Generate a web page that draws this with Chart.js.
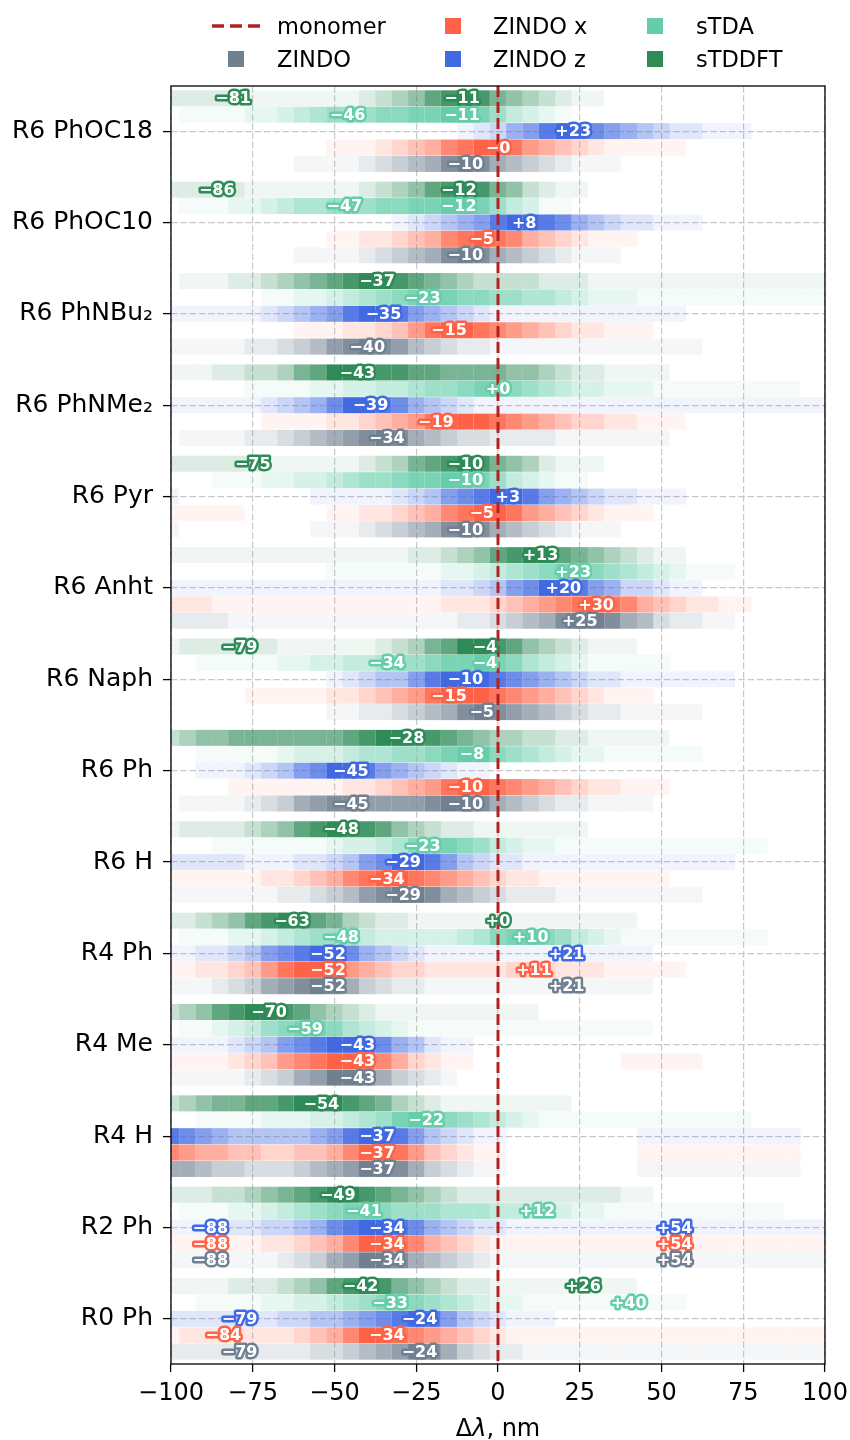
<!DOCTYPE html>
<html>
<head>
<meta charset="utf-8">
<script src="https://cdn.jsdelivr.net/npm/chart.js@4"></script>
<style>
  body { margin: 0; background: #fff; }
  #wrap { position: relative; width: 850px; height: 1440px; font-family: "DejaVu Sans", sans-serif; color: #000; }
  #chart { position: absolute; left: 0; top: 0; }
  .lg-text { position: absolute; font-size: 22.5px; line-height: 26px; white-space: nowrap; }
  .lg-box { position: absolute; width: 16px; height: 16px; }
  #xtitle { position: absolute; left: 171px; width: 654px; top: 1414px; text-align: center; font-size: 24px; line-height: 28px; }
</style>
</head>
<body>
<div id="wrap">
  <canvas id="chart" width="850" height="1440"></canvas>

  <!-- legend, 3 columns like the original -->
  <svg style="position:absolute;left:212px;top:23px" width="48" height="6">
    <line x1="0" y1="3" x2="48" y2="3" stroke="#b22222" stroke-width="3.5" stroke-dasharray="12,6"></line>
  </svg>
  <span class="lg-text" style="left:277px;top:13px">monomer</span>
  <div class="lg-box" style="left:445px;top:18px;background:#ff6347"></div>
  <span class="lg-text" style="left:493px;top:13px">ZINDO x</span>
  <div class="lg-box" style="left:647px;top:18px;background:#66cdaa"></div>
  <span class="lg-text" style="left:696px;top:13px">sTDA</span>

  <div class="lg-box" style="left:228px;top:51px;background:#708090"></div>
  <span class="lg-text" style="left:277px;top:46px">ZINDO</span>
  <div class="lg-box" style="left:445px;top:51px;background:#4169e1"></div>
  <span class="lg-text" style="left:493px;top:46px">ZINDO z</span>
  <div class="lg-box" style="left:647px;top:51px;background:#2e8b57"></div>
  <span class="lg-text" style="left:696px;top:46px">sTDDFT</span>

  <div id="xtitle">Δ<i>λ</i>, nm</div>
</div>

<script>
// molecules, top to bottom
const groups = ['R6 PhOC18', 'R6 PhOC10', 'R6 PhNBu\u2082', 'R6 PhNMe\u2082', 'R6 Pyr', 'R6 Anht',
  'R6 Naph', 'R6 Ph', 'R6 H', 'R4 Ph', 'R4 Me', 'R4 H', 'R2 Ph', 'R0 Ph'];

// centres of the 5 nm bins
const binCenters = [-100, -95, -90, -85, -80, -75, -70, -65, -60, -55, -50, -45, -40, -35, -30, -25, -20,
  -15, -10, -5, 0, 5, 10, 15, 20, 25, 30, 35, 40, 45, 50, 55, 60, 65, 70, 75, 80, 85, 90, 95, 100];

const xTicks = [-100, -75, -50, -25, 0, 25, 50, 75, 100];

// intensity of each bin, one digit per bin (0 = empty, 9 = full colour)
const sTDDFT_rows = [
  '2222211111112345789865432110000000000000',
  '2222211111112345789865321100000000000000',
  '0111223456789987654333322211111111111111',
  '1112233467999887766665543221111000000000',
  '2222221111112346789865421110000000000000',
  '1111111111111112234578997654321100000000',
  '1222222111111234679987543211100000000000',
  '3455666666678998876544332211111000000000',
  '1222234578988754322111111100000000000000',
  '2234578987643221111111111111100000000000',
  '3457899875432111111111100000000000000000',
  '3456677899987643211111111000000000000000',
  '2223345678998765432222222222110000000000',
  '1111222345789865432211111111100000000000'
];
const sTDA_rows = [
  '0111122345666778899864321000000000000000',
  '0111223455666778899864311000000000000000',
  '0000001122345678887766554322211111111111',
  '0000011112233445667887654332221111111110',
  '0001112233456678899864321100000000000000',
  '0000000000111111122345678876543211100000',
  '0011111223344566788987543211111000000000',
  '0011111233345566789976543221111110000000',
  '0001111111233457887643221111111111111000',
  '0111223456654333334578876432111111111000',
  '0112346788754321111111111111110000000000',
  '0011112223345689876543211111111111110000',
  '0111223456788766655544433221111111111100',
  '0011112233456777654322111111111100000000'
];
const zindoZ_rows = [
  '0000000000000000001235689876543221110000',
  '0000000000000012345689987543221110000000',
  '1111112345689986543211111111111100000000',
  '1111112345799875432111111111111111111111',
  '1000000001111123467899865432211100000000',
  '1111111111111111122346799865332110000000',
  '0000000000123446899987654322111111100000',
  '0011123467998654321100000000000000000000',
  '2222211122346799864322111111111111100000',
  '1122346789975432111111111111110000000000',
  '1111234678998754211000000000000000000000',
  '8765444445689986432110000000011111111110',
  '1112223345789987543221111111111111111111',
  '2222222334456789864321110000000000000000'
];
const zindoX_rows = [
  '0000000000111234578998654321111100000000',
  '0000000000112234578987543211100000000000',
  '0000000011122346899876543221110000000000',
  '0000001111223456899987654332211100000000',
  '1111100000112234578998654321110000000000',
  '2221111111111111122234567898754322110000',
  '0000011111223456899987654321110000000000',
  '0000111111122345689987654322111000000000',
  '1111112234578998765432211111111000000000',
  '1122346899865433222223332221111100000000',
  '1111234678998753211000000000111110000000',
  '7655443344579986432110000000011111111110',
  '1111112234579987543211111111111111111111',
  '1222222234579987654321111111111111111111'
];
const zindo_rows = [
  '0000000011112345689865432111000000000000',
  '0000000011112345689865432111000000000000',
  '1111122345789875432211111111111110000000',
  '0111122345678986543322221111111000000000',
  '1000000001112345689865432111000000000000',
  '2222111111111111112234568998653221100000',
  '0000000000112234568987654322111110000000',
  '0111123467887777899865432211110000000000',
  '1111111223457899865432221111111110000000',
  '1112346789864322111111111111110000000000',
  '1111123467998643210000000000000000000000',
  '6654433345679986432110000000011111111110',
  '1111111234679986543211111111111111111111',
  '2222222223345679864322111111111111111111'
];

// labelled peak positions, nm
const sTDDFT_peaks = [[-81, -11], [-86, -12], [-37], [-43], [-75, -10], [13], [-79, -4], [-28], [-48], [-63, 0], [-70], [-54], [-49], [-42, 26]];
const sTDA_peaks = [[-46, -11], [-47, -12], [-23], [0], [-10], [23], [-34, -4], [-8], [-23], [-48, 10], [-59], [-22], [-41, 12], [-33, 40]];
const zindoZ_peaks = [[23], [8], [-35], [-39], [3], [20], [-10], [-45], [-29], [-52, 21], [-43], [-37], [-88, -34, 54], [-79, -24]];
const zindoX_peaks = [[-0], [-5], [-15], [-19], [-5], [30], [-15], [-10], [-34], [-52, 11], [-43], [-37], [-88, -34, 54], [-84, -34]];
const zindo_peaks = [[-10], [-10], [-40], [-34], [-10], [25], [-5], [-45, -10], [-29], [-52, 21], [-43], [-37], [-88, -34, 54], [-79, -24]];

// rows inside a group, top to bottom
const methods = [
  { name: 'sTDDFT', rgb: '46,139,87', rows: sTDDFT_rows, peaks: sTDDFT_peaks },
  { name: 'sTDA', rgb: '102,205,170', rows: sTDA_rows, peaks: sTDA_peaks },
  { name: 'ZINDO z', rgb: '65,105,225', rows: zindoZ_rows, peaks: zindoZ_peaks },
  { name: 'ZINDO x', rgb: '255,99,71', rows: zindoX_rows, peaks: zindoX_peaks },
  { name: 'ZINDO', rgb: '112,128,144', rows: zindo_rows, peaks: zindo_peaks }
];

const alphaLevels = [0, 0.07, 0.16, 0.27, 0.39, 0.52, 0.64, 0.76, 0.88, 1];
const GROUP_GAP = 5.57;
const Y_MIN = -2.75;
const Y_MAX = (groups.length - 1) * GROUP_GAP + 2.75;

function rowY(g, r) {
  return g * GROUP_GAP + r - 2;
}

// turn the digit strings into floating bars
function cellsFor(rows, r) {
  var cells = [];
  rows.forEach(function (s, g) {
    for (var k = 0; k < binCenters.length; k++) {
      var d = k < s.length ? +s[k] : +s[s.length - 1];
      if (d > 0) {
        cells.push({ y: rowY(g, r), x: [binCenters[k] - 2.5, binCenters[k] + 2.5], a: alphaLevels[d] });
      }
    }
  });
  return cells;
}

function signed(v) {
  if (v < 0 || Object.is(v, -0)) return '\u2212' + Math.abs(v);
  return '+' + v;
}

var datasets = methods.map(function (m, r) {
  return {
    type: 'bar',
    label: m.name,
    data: cellsFor(m.rows, r),
    backgroundColor: function (c) {
      var a = c.raw ? c.raw.a : 1;
      return 'rgba(' + m.rgb + ',' + a + ')';
    },
    borderWidth: 0,
    inflateAmount: 0,
    barThickness: 16,
    grouped: false,
    clip: 0,
    order: 1
  };
});

datasets.push({
  type: 'line',
  label: 'monomer',
  data: [{ x: 0, y: Y_MIN }, { x: 0, y: Y_MAX }],
  borderColor: '#b22222',
  borderWidth: 3,
  borderDash: [11, 5],
  pointRadius: 0,
  clip: 0,
  order: 0
});

// white numbers with a coloured outline at each peak
const peakLabels = {
  id: 'peakLabels',
  afterDatasetsDraw: function (chart) {
    var ctx = chart.ctx, x = chart.scales.x, y = chart.scales.y;
    ctx.save();
    ctx.font = 'bold 16px "DejaVu Sans"';
    ctx.textAlign = 'center';
    ctx.textBaseline = 'middle';
    ctx.lineJoin = 'round';
    methods.forEach(function (m, r) {
      m.peaks.forEach(function (list, g) {
        list.forEach(function (v) {
          var px = x.getPixelForValue(v);
          var py = y.getPixelForValue(rowY(g, r)) + 1;
          ctx.lineWidth = 5;
          ctx.strokeStyle = 'rgb(' + m.rgb + ')';
          ctx.strokeText(signed(v), px, py);
          ctx.fillStyle = '#fff';
          ctx.fillText(signed(v), px, py);
        });
      });
    });
    ctx.restore();
  },
  afterDraw: function (chart) {
    var a = chart.chartArea, ctx = chart.ctx;
    ctx.save();
    ctx.strokeStyle = '#000';
    ctx.lineWidth = 1.3;
    ctx.strokeRect(a.left, a.top, a.right - a.left, a.bottom - a.top);
    ctx.restore();
  }
};

Chart.defaults.font.family = '"DejaVu Sans", sans-serif';

var gridOpts = { color: '#c8c8c8', lineWidth: 1.2, tickColor: '#000', tickLength: 8, tickWidth: 1.3, tickBorderDash: [] };
var borderOpts = { display: false, dash: [6.5, 2.8] };

var chart = new Chart(document.getElementById('chart'), {
  type: 'bar',
  data: { datasets: datasets },
  plugins: [peakLabels],
  options: {
    indexAxis: 'y',
    responsive: false,
    animation: false,
    devicePixelRatio: 1,
    events: [],
    layout: { padding: { top: 86, right: 25, left: 0, bottom: 0 } },
    plugins: { legend: { display: false }, tooltip: { enabled: false } },
    scales: {
      x: {
        type: 'linear',
        min: -100,
        max: 100,
        afterBuildTicks: function (s) { s.ticks = xTicks.map(function (v) { return { value: v }; }); },
        ticks: {
          color: '#000', font: { size: 24 }, padding: 7, maxRotation: 0, autoSkip: false,
          callback: function (v) { return v < 0 ? '\u2212' + Math.abs(v) : String(v); }
        },
        grid: gridOpts,
        border: borderOpts,
        afterFit: function (s) {
          s.height = 76;
          s.paddingLeft = 0;
          s.paddingRight = 0;
        }
      },
      y: {
        type: 'linear',
        reverse: true,
        min: Y_MIN,
        max: Y_MAX,
        offset: false,
        afterBuildTicks: function (s) { s.ticks = groups.map(function (n, g) { return { value: g * GROUP_GAP }; }); },
        ticks: {
          color: '#000', font: { size: 25 }, padding: 10, autoSkip: false,
          callback: function (v, i) { return groups[i]; }
        },
        grid: Object.assign({}, gridOpts, { offset: false }),
        border: borderOpts,
        afterFit: function (s) {
          s.width = 171;
          s.paddingTop = 0;
          s.paddingBottom = 0;
        }
      }
    }
  }
});
</script>
</body>
</html>
